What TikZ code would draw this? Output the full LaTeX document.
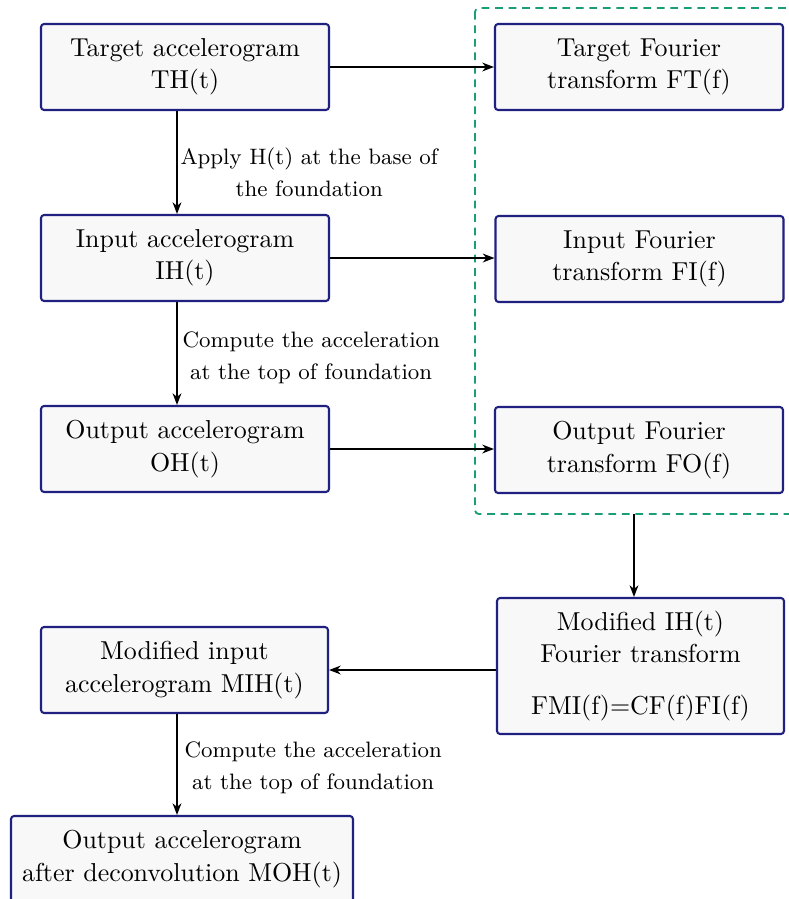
\documentclass[tikz,border=0pt]{standalone}
\usetikzlibrary{arrows.meta}
\def\u{0.3857pt}
\definecolor{boxdraw}{RGB}{32,32,128}
\definecolor{boxfill}{RGB}{248,248,248}
\definecolor{grpgreen}{RGB}{27,158,119}
\tikzset{
 stepbox/.style={draw=boxdraw, fill=boxfill, line width=0.8pt, rounded corners=1.2pt, align=center, inner sep=0pt, minimum width=288*\u, minimum height=86*\u, font=\fontsize{10}{12.5}\selectfont},
 arr/.style={-{Stealth[length=4.5pt,width=3.4pt,inset=1.4pt]}, line width=0.6pt},
 lbl/.style={align=center, inner sep=0pt, anchor=west, font=\fontsize{8.6}{12.5}\selectfont},
 grp/.style={draw=grpgreen, dash pattern=on 3pt off 2.2pt, line width=0.7pt, rounded corners=1.5pt}
}
\begin{document}
\begin{tikzpicture}[x=\u, y=-\u]
\clip (0,0) rectangle (789,899);
\draw[grp] (475,8) rectangle (810,514);
\node[stepbox] (TH) at (185,67) {Target accelerogram\\TH(t)};
\node[stepbox] (FT) at (639,67) {Target Fourier\\transform FT(f)};
\node[stepbox] (IH) at (185,258) {Input accelerogram\\IH(t)};
\node[stepbox] (FI) at (639.5,259) {Input Fourier\\transform FI(f)};
\node[stepbox] (OH) at (185,449) {Output accelerogram\\OH(t)};
\node[stepbox] (FO) at (639,450) {Output Fourier\\transform FO(f)};
\node[stepbox, minimum width=287*\u, minimum height=136*\u] (MFT) at (640.5,666) {Modified IH(t)\\Fourier transform\\[7.5pt]FMI(f)=CF(f)FI(f)};
\node[stepbox, minimum width=287*\u] (MIH) at (184.5,670) {Modified input\\accelerogram MIH(t)};
\node[stepbox, minimum width=342*\u] (MOH) at (182,859) {Output accelerogram\\after deconvolution MOH(t)};
\coordinate (gb) at (634,514);
\draw[arr] (TH.east) -- (FT.west);
\draw[arr] (IH.east) -- (IH.east -| FI.west);
\draw[arr] (OH.east) -- (OH.east -| FO.west);
\draw[arr] ([xshift=-8*\u]TH.south) -- ([xshift=-8*\u]IH.north);
\draw[arr] ([xshift=-8*\u]IH.south) -- ([xshift=-8*\u]OH.north);
\draw[arr] (gb) -- (gb |- MFT.north);
\draw[arr] (MFT.west |- MIH.east) -- (MIH.east);
\draw[arr] ([xshift=-7.5*\u]MIH.south) -- ([xshift=-7.5*\u]MIH.south |- MOH.north);
\node[lbl] (l1) at (180,172) {Apply H(t) at the base of\\the foundation};
\node[lbl] (l2) at (182,358) {Compute the acceleration\\at the top of foundation};
\node[lbl] (l3) at (184,768) {Compute the acceleration\\at the top of foundation};
\end{tikzpicture}
\end{document}
